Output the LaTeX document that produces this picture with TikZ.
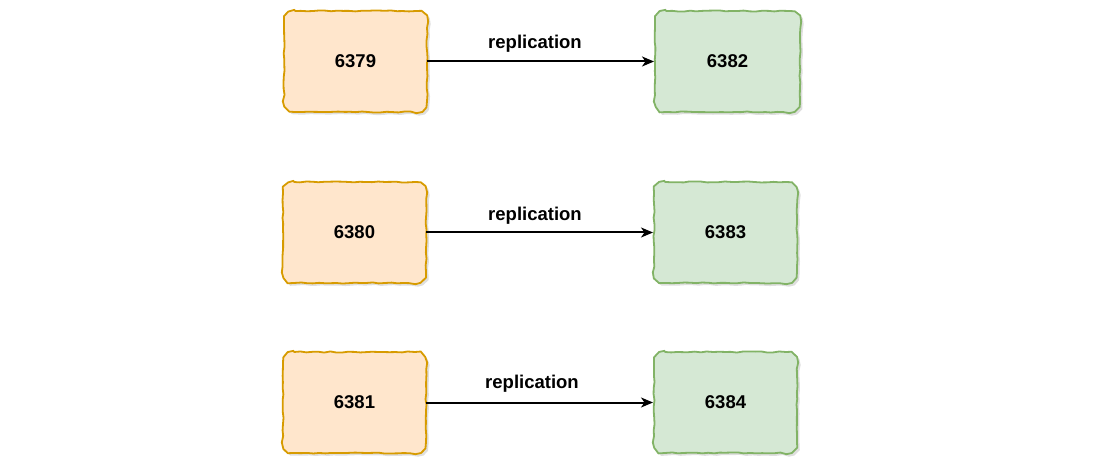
\documentclass[tikz,border=0pt]{standalone}
\usepackage{fontspec}
\setmainfont{Liberation Sans}
\usetikzlibrary{arrows.meta,decorations.pathmorphing,shadows}
\definecolor{ofill}{HTML}{FFE6CC}
\definecolor{ostroke}{HTML}{D79B00}
\definecolor{gfill}{HTML}{D5E8D4}
\definecolor{gstroke}{HTML}{82B366}
\newcommand\skbox[3]{%
  \filldraw[draw=#2,fill=#3,line width=1.8pt,line join=round,line cap=round,
    drop shadow={shadow xshift=2.5pt,shadow yshift=-2.5pt,opacity=0.25,fill=gray},
    decoration={random steps,segment length=6pt,amplitude=0.55pt},decorate]
    ([xshift=11pt]#1.north west) -- ([xshift=-11pt]#1.north east)
    .. controls ([xshift=-5pt]#1.north east) and ([yshift=-5pt]#1.north east) .. ([yshift=-11pt]#1.north east)
    -- ([yshift=11pt]#1.south east)
    .. controls ([yshift=5pt]#1.south east) and ([xshift=-5pt]#1.south east) .. ([xshift=-11pt]#1.south east)
    -- ([xshift=11pt]#1.south west)
    .. controls ([xshift=5pt]#1.south west) and ([yshift=5pt]#1.south west) .. ([yshift=11pt]#1.south west)
    -- ([yshift=-11pt]#1.north west)
    .. controls ([yshift=-5pt]#1.north west) and ([xshift=5pt]#1.north west) .. ([xshift=11pt]#1.north west);}
\begin{document}
\begin{tikzpicture}[x=1pt,y=-1pt,
  sbox/.style={minimum width=143pt,minimum height=101pt,inner sep=0pt,outer sep=0pt,
    font=\fontsize{18.5}{22}\selectfont\bfseries},
  rep/.style={-{Stealth[length=12pt,width=10pt,inset=3.5pt]},line width=2pt,black,shorten >=1pt},
  lbl/.style={font=\fontsize{18.5}{22}\selectfont\bfseries,inner sep=0pt}]
\pgfmathsetseed{7}
\useasboundingbox (0,0) rectangle (1117,470);
\node[sbox] (a1) at (355.5,61.5) {};
\node[sbox,minimum width=145pt] (b1) at (727.5,61.5) {};
\node[sbox] (a2) at (354.5,232.5) {};
\node[sbox] (b2) at (725.5,232.5) {};
\node[sbox] (a3) at (354.5,402.5) {};
\node[sbox] (b3) at (725.5,402.5) {};
\skbox{a1}{ostroke}{ofill}
\skbox{a2}{ostroke}{ofill}
\skbox{a3}{ostroke}{ofill}
\skbox{b1}{gstroke}{gfill}
\skbox{b2}{gstroke}{gfill}
\skbox{b3}{gstroke}{gfill}
\node[lbl] (t1) at (a1) {6379};
\node[lbl] (t2) at (a2) {6380};
\node[lbl] (t3) at (a3) {6381};
\node[lbl] (u1) at (b1) {6382};
\node[lbl] (u2) at (b2) {6383};
\node[lbl] (u3) at (b3) {6384};
\draw[rep] (a1) -- (b1);
\draw[rep] (a2) -- (b2);
\draw[rep] (a3) -- (b3);
\node[lbl] (l1) at (535,44) {replication};
\node[lbl] (l2) at (535,216) {replication};
\node[lbl] (l3) at (532,384) {replication};
\end{tikzpicture}
\end{document}
